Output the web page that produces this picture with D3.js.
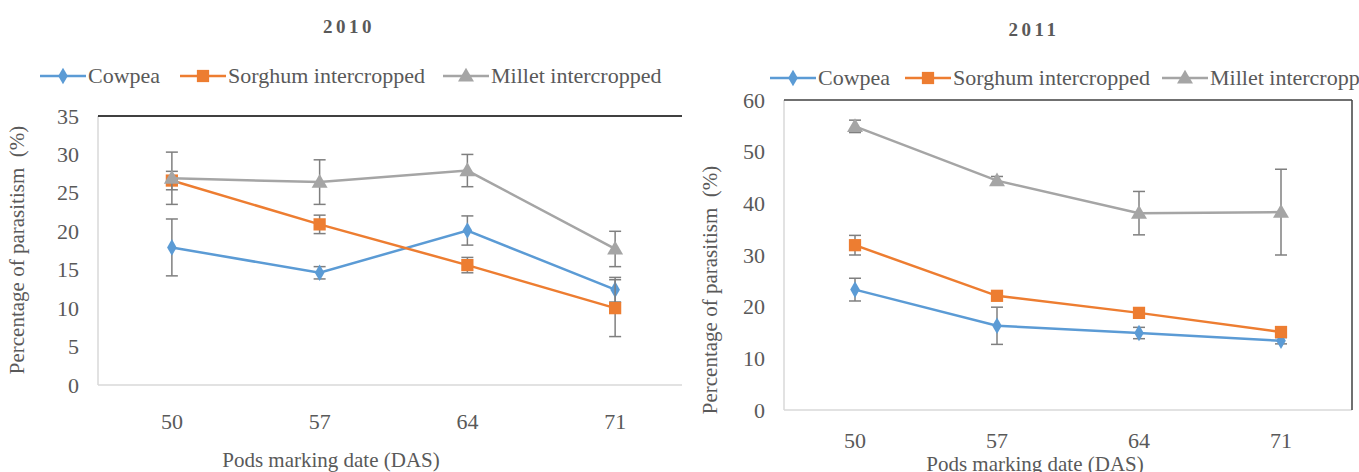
<!DOCTYPE html>
<html>
<head>
<meta charset="utf-8">
<script src="https://cdn.jsdelivr.net/npm/d3@7"></script>
<style>
  body { margin: 0; background: #fff; }
  svg text { font-family: "Liberation Serif", "Times New Roman", serif; fill: #595959; }
</style>
</head>
<body>
<div id="chart"></div>
<script>
// pods marking dates (days after sowing)
var dates = ["50", "57", "64", "71"];
var seriesNames = ["Cowpea", "Sorghum intercropped", "Millet intercropped"];
var seriesColors = ["#5b9bd5", "#ed7d31", "#a5a5a5"];
var seriesShapes = ["diamond", "square", "triangle"];

// 2010 values and error bars (%)
var cowpea2010 = [17.9, 14.6, 20.1, 12.4],
    cowpeaErr2010 = [3.7, 0.8, 1.9, 1.6];
var sorghum2010 = [26.6, 20.9, 15.6, 10.0],
    sorghumErr2010 = [1.2, 1.2, 1.0, 3.7];
var millet2010 = [26.9, 26.4, 27.9, 17.7],
    milletErr2010 = [3.4, 2.9, 2.1, 2.3];
var yTicks2010 = [0, 5, 10, 15, 20, 25, 30, 35];

// 2011 values and error bars (%)
var cowpea2011 = [23.3, 16.3, 14.9, 13.4],
    cowpeaErr2011 = [2.2, 3.6, 1.1, 0.6];
var sorghum2011 = [31.9, 22.1, 18.8, 15.1],
    sorghumErr2011 = [1.9, 0.5, 0.5, 0.5];
var millet2011 = [54.9, 44.4, 38.1, 38.3],
    milletErr2011 = [1.2, 0.8, 4.2, 8.3];
var yTicks2011 = [0, 10, 20, 30, 40, 50, 60];

var svg = d3.select("#chart").append("svg")
    .attr("width", 1359)
    .attr("height", 472);

function drawPanel(p) {
    var g = svg.append("g");
    var x = d3.scaleBand().domain(dates).range([p.left, p.right]);
    var y = d3.scaleLinear().domain([0, d3.max(p.ticks)]).range([p.bottom, p.top]);

    if (p.clip) {
        svg.append("clipPath").attr("id", p.clip)
            .append("rect").attr("x", 0).attr("y", 0).attr("width", p.clipRight).attr("height", 472);
        g.attr("clip-path", "url(#" + p.clip + ")");
    }

    // title
    svg.append("text")
        .attr("x", p.titleX).attr("y", p.titleY)
        .attr("text-anchor", "middle")
        .style("font-size", "19px").style("font-weight", "bold")
        .style("letter-spacing", "3.5px")
        .text(p.title);

    // legend
    var lg = svg.append("g");
    p.legendX.forEach(function(lx, i) {
        lg.append("line")
            .attr("x1", lx).attr("x2", lx + 46)
            .attr("y1", p.legendY).attr("y2", p.legendY)
            .attr("stroke", seriesColors[i]).attr("stroke-width", 2.5);
        drawMarker(lg, seriesShapes[i], lx + 23, p.legendY, seriesColors[i]);
        lg.append("text")
            .attr("x", lx + 48).attr("y", p.legendY + 7)
            .style("font-size", "22px")
            .text(seriesNames[i]);
    });

    // y axis (no ticks, no domain)
    var yAxis = g.append("g")
        .attr("transform", "translate(" + p.left + ",0)")
        .call(d3.axisLeft(y).tickValues(p.ticks).tickSize(0).tickPadding(19));
    yAxis.select(".domain").remove();
    yAxis.selectAll("text")
        .style("font-size", "22px").style("font-family", "Liberation Serif").attr("fill", "#595959");

    // x axis labels
    var xAxis = g.append("g")
        .attr("transform", "translate(0," + p.bottom + ")")
        .call(d3.axisBottom(x).tickSize(0).tickPadding(p.xPad));
    xAxis.select(".domain").remove();
    xAxis.selectAll("text")
        .style("font-size", "22px").style("font-family", "Liberation Serif").attr("fill", "#595959");

    // plot frame
    g.append("line").attr("x1", p.left).attr("x2", p.left).attr("y1", p.top).attr("y2", p.bottom)
        .attr("stroke", "#d9d9d9").attr("stroke-width", 1.5);
    g.append("line").attr("x1", p.left).attr("x2", p.right).attr("y1", p.bottom).attr("y2", p.bottom)
        .attr("stroke", "#d9d9d9").attr("stroke-width", 1.5);
    g.append("line").attr("x1", p.left).attr("x2", p.right).attr("y1", p.top).attr("y2", p.top)
        .attr("stroke", p.topColor).attr("stroke-width", 1.5);
    if (p.rightBorder) {
        g.append("line").attr("x1", p.right).attr("x2", p.right).attr("y1", p.top).attr("y2", p.bottom)
            .attr("stroke", p.topColor).attr("stroke-width", 1.5);
    }

    // axis titles
    svg.append("text")
        .attr("transform", "translate(" + p.yTitleX + "," + p.yTitleY + ") rotate(-90)")
        .attr("text-anchor", "middle")
        .style("font-size", "21px").style("white-space", "pre")
        .text("Percentage of parasitism  (%)");
    svg.append("text")
        .attr("x", p.xTitleX).attr("y", p.xTitleY)
        .attr("text-anchor", "middle")
        .style("font-size", "21px")
        .text("Pods marking date (DAS)");

    var cx = function(i) { return x(dates[i]) + x.bandwidth() / 2; };

    // series: error bars, line, markers
    p.series.forEach(function(s, k) {
        var eb = g.append("g").attr("stroke", "#7f7f7f").attr("stroke-width", 1.5);
        s.values.forEach(function(v, i) {
            var e = s.errors[i];
            eb.append("line").attr("x1", cx(i)).attr("x2", cx(i)).attr("y1", y(v - e)).attr("y2", y(v + e));
            [v - e, v + e].forEach(function(t) {
                eb.append("line").attr("x1", cx(i) - 6).attr("x2", cx(i) + 6).attr("y1", y(t)).attr("y2", y(t));
            });
        });
        var line = d3.line().x(function(d, i) { return cx(i); }).y(function(d) { return y(d); });
        g.append("path").datum(s.values)
            .attr("d", line).attr("fill", "none")
            .attr("stroke", seriesColors[k]).attr("stroke-width", 2.5);
        s.values.forEach(function(v, i) {
            drawMarker(g, seriesShapes[k], cx(i), y(v), seriesColors[k]);
        });
    });
}

function drawMarker(parent, shape, mx, my, color) {
    var sym = shape == "diamond" ? d3.symbolDiamond : (shape == "square" ? d3.symbolSquare : d3.symbolTriangle);
    var size = shape == "diamond" ? 80 : (shape == "square" ? 150 : 110);
    parent.append("path")
        .attr("d", d3.symbol().type(sym).size(size)())
        .attr("transform", "translate(" + mx + "," + (shape == "triangle" ? my + 1 : my) + ")")
        .attr("fill", color);
}

drawPanel({
    title: "2010", titleX: 349, titleY: 33,
    legendX: [40, 180, 443], legendY: 76,
    left: 98, right: 689, top: 116, bottom: 385, clip: "clipL", clipRight: 682,
    ticks: yTicks2010, topColor: "#000", rightBorder: false, xPad: 28,
    yTitleX: 24, yTitleY: 250, xTitleX: 331, xTitleY: 467,
    series: [
        {values: cowpea2010, errors: cowpeaErr2010},
        {values: sorghum2010, errors: sorghumErr2010},
        {values: millet2010, errors: milletErr2010}
    ]
});

drawPanel({
    title: "2011", titleX: 1034, titleY: 36,
    legendX: [770, 905, 1162], legendY: 78,
    left: 784, right: 1352, top: 100, bottom: 410,
    ticks: yTicks2011, topColor: "#404040", rightBorder: true, xPad: 22,
    yTitleX: 717, yTitleY: 290, xTitleX: 1035, xTitleY: 471,
    series: [
        {values: cowpea2011, errors: cowpeaErr2011},
        {values: sorghum2011, errors: sorghumErr2011},
        {values: millet2011, errors: milletErr2011}
    ]
});
</script>
</body>
</html>
